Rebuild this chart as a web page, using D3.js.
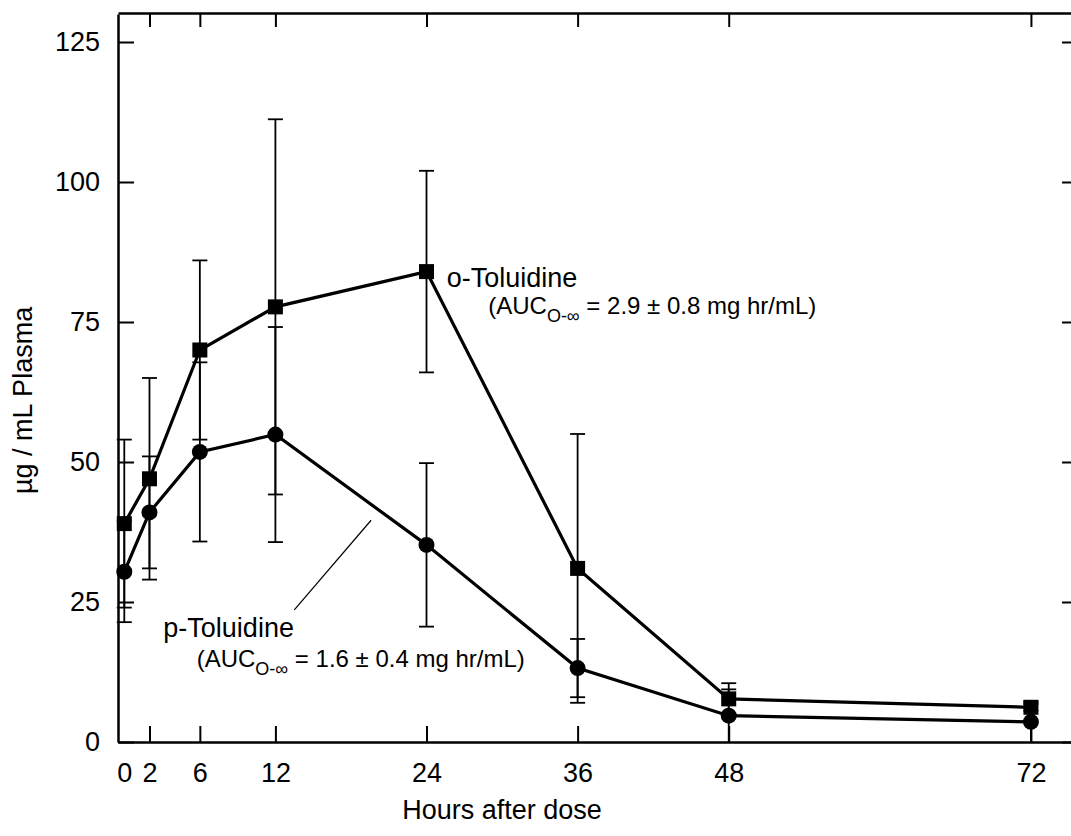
<!DOCTYPE html>
<html>
<head>
<meta charset="utf-8">
<script src="https://cdn.jsdelivr.net/npm/d3@7"></script>
<style>
  body { margin: 0; background: #fff; }
  text { font-family: "Liberation Sans", Arial, Helvetica, sans-serif; fill: #000; }
</style>
</head>
<body>
<div class="graph"></div>
<script>
// values
let hours = [0, 2, 6, 12, 24, 36, 48, 72];
let oMean = [39, 47, 70, 77.7, 84, 31, 7.7, 6.2];
let oSD = [15, 18, 16, 33.5, 18, 24, 2.8, 0.6];
let pMean = [30.4, 41, 51.8, 54.9, 35.2, 13.2, 4.7, 3.6];
let pSD = [9, 10, 16, 19.2, 14.6, 5.2, 4.7, 3.6];
let xTicks = [0, 2, 6, 12, 24, 36, 48, 72];
let yTicks = [0, 25, 50, 75, 100, 125];

let w = 1071;
let h = 836;

let svgvar = d3
  .select(".graph")
  .append("svg")
  .attr("width", w)
  .attr("height", h);

let xScale = d3.scaleLinear().domain([-0.5, 75.5]).range([118, 1075]);
let yScale = d3.scaleLinear().domain([0, 130]).range([742, 14]);

let font = 27;

// axes, ticks point inward
let yAxis = d3.axisLeft(yScale).tickValues(yTicks).tickSizeInner(-16).tickSizeOuter(0).tickPadding(18);
let xAxis = d3.axisBottom(xScale).tickValues(xTicks).tickSizeInner(-16).tickSizeOuter(0).tickPadding(21);
let xTop = d3.axisTop(xScale).tickValues(xTicks).tickSizeInner(-14).tickSizeOuter(0).tickFormat("");
let yRight = d3.axisRight(yScale).tickValues(yTicks).tickSizeInner(-13).tickSizeOuter(0).tickFormat("");

function styleAxis(g) {
  g.select(".domain").attr("stroke", "#000").attr("stroke-width", 2.5);
  g.selectAll(".tick line").attr("stroke", "#000").attr("stroke-width", 2);
  g.selectAll(".tick text").attr("font-size", font).attr("font-family", null).attr("fill", "#000");
}

svgvar.append("g").attr("transform", "translate(118,0)").call(yAxis).call(styleAxis);
svgvar.append("g").attr("transform", "translate(0,742)").call(xAxis).call(styleAxis)
  .selectAll(".tick").filter((d) => d === 0).select("line").remove();
svgvar.append("g").attr("transform", "translate(0,13)").call(xTop).call(styleAxis)
  .selectAll(".tick").filter((d) => d === 0).select("line").remove();
svgvar.append("g").attr("transform", "translate(1075,0)").call(yRight).call(styleAxis);

// axis titles
svgvar.append("text")
  .attr("x", xScale(30))
  .attr("y", 819)
  .attr("text-anchor", "middle")
  .attr("font-size", font)
  .text("Hours after dose");

svgvar.append("text")
  .attr("transform", "translate(32," + yScale(61) + ") rotate(-90)")
  .attr("text-anchor", "middle")
  .attr("font-size", font)
  .text("µg / mL Plasma");

let series = [
  { mean: oMean, sd: oSD, shape: "square" },
  { mean: pMean, sd: pSD, shape: "circle" }
];

let line = d3.line()
  .x((d) => xScale(d[0]))
  .y((d) => yScale(d[1]));

series.forEach(function (s) {
  let pts = hours.map((t, i) => ({ t: t, m: s.mean[i], sd: s.sd[i] }));
  let eb = svgvar.append("g").attr("stroke", "#000").attr("stroke-width", 1.8);
  pts.forEach(function (d) {
    let lo = Math.max(0, d.m - d.sd);
    let hi = d.m + d.sd;
    eb.append("line")
      .attr("x1", xScale(d.t)).attr("x2", xScale(d.t))
      .attr("y1", yScale(lo)).attr("y2", yScale(hi));
    eb.append("line")
      .attr("x1", xScale(d.t) - 7.5).attr("x2", xScale(d.t) + 7.5)
      .attr("y1", yScale(hi)).attr("y2", yScale(hi));
    if (lo > 0) {
      eb.append("line")
        .attr("x1", xScale(d.t) - 7.5).attr("x2", xScale(d.t) + 7.5)
        .attr("y1", yScale(lo)).attr("y2", yScale(lo));
    }
  });
  svgvar.append("path")
    .datum(hours.map((t, i) => [t, s.mean[i]]))
    .attr("fill", "none")
    .attr("stroke", "#000")
    .attr("stroke-width", 3.2)
    .attr("d", line);
});

series.forEach(function (s) {
  let g = svgvar.append("g");
  if (s.shape === "square") {
    g.selectAll("rect")
      .data(hours)
      .enter()
      .append("rect")
      .attr("x", (d) => xScale(d) - 7.5)
      .attr("y", (d, i) => yScale(s.mean[i]) - 7.5)
      .attr("width", 15)
      .attr("height", 15)
      .attr("fill", "#000");
  } else {
    g.selectAll("circle")
      .data(hours)
      .enter()
      .append("circle")
      .attr("cx", (d) => xScale(d))
      .attr("cy", (d, i) => yScale(s.mean[i]))
      .attr("r", 8)
      .attr("fill", "#000");
  }
});

// annotations
function auc(x, y, val) {
  let t = svgvar.append("text")
    .attr("x", xScale(x))
    .attr("y", yScale(y))
    .attr("font-size", 24);
  t.append("tspan").text("(AUC");
  t.append("tspan").attr("font-size", 18).attr("dy", 8).text("O-∞");
  t.append("tspan").attr("dy", -8).text(" = " + val + " mg hr/mL)");
}

svgvar.append("text")
  .attr("x", xScale(25.6))
  .attr("y", yScale(81.25))
  .attr("font-size", font)
  .text("o-Toluidine");
auc(28.9, 76.4, "2.9 ± 0.8");

svgvar.append("text")
  .attr("x", xScale(3.1))
  .attr("y", yScale(18.75))
  .attr("font-size", font)
  .text("p-Toluidine");
auc(5.75, 13.4, "1.6 ± 0.4");

svgvar.append("line")
  .attr("x1", xScale(13.5)).attr("y1", yScale(23.6))
  .attr("x2", xScale(19.6)).attr("y2", yScale(39.6))
  .attr("stroke", "#000")
  .attr("stroke-width", 1.2);
</script>
</body>
</html>
